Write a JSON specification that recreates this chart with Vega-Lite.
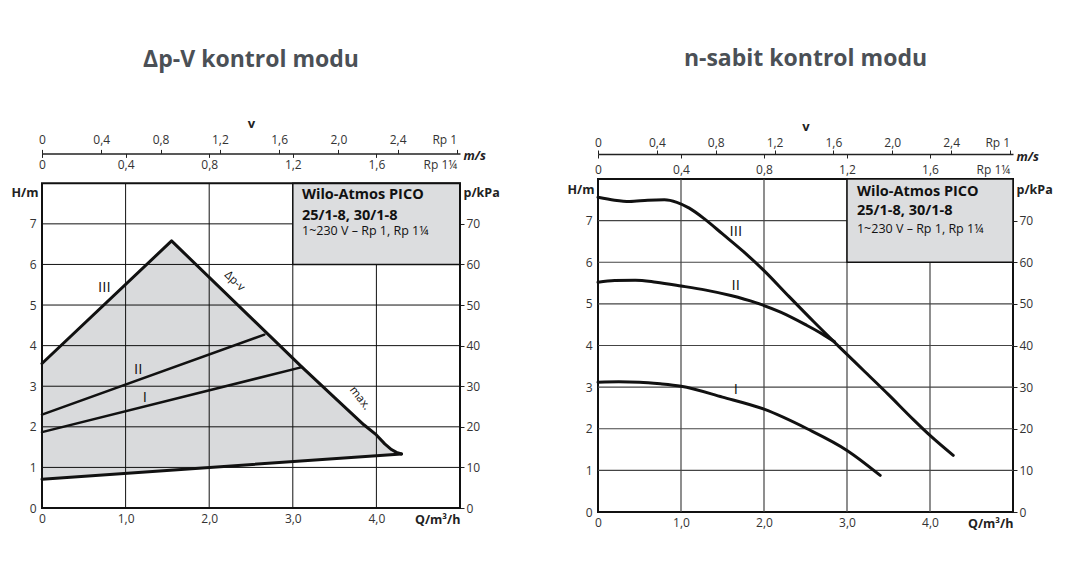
{
  "$schema": "https://vega.github.io/schema/vega-lite/v6.json",
  "background": "white",
  "padding": {"left": 10, "top": 47, "right": 5, "bottom": 5},
  "autosize": {"type": "pad"},
  "config": {
    "view": {"stroke": "#111", "strokeWidth": 2},
    "axis": {"grid": false, "labelFont": "Open Sans", "labelFontSize": 12, "labelColor": "#333", "titleFont": "Open Sans", "titleFontSize": 12.5, "titleFontWeight": "bold", "titleColor": "#222", "tickColor": "#222", "domainColor": "#222", "labelFlush": false, "labelOverlap": false, "labelBound": false},
    "title": {"font": "Open Sans", "fontSize": 23, "fontWeight": "bold", "color": "#4b5056", "anchor": "middle", "frame": "group"},
    "text": {"font": "Open Sans", "color": "#111"}
  },
  "spacing": 65,
  "hconcat": [
    {
      "title": {"text": "Δp-V kontrol modu", "offset": 45.9},
      "width": 418,
      "height": 329,
      "view": {"stroke": null},
      "resolve": {"axis": {"x": "independent", "y": "independent"}},
      "layer": [
        {
          "data": {"values": [
            {"q": 0, "upper": 3.56, "lower": 0.71},
            {"q": 1.55, "upper": 6.58, "lower": 0.93},
            {"q": 3.11, "upper": 3.47, "lower": 1.15},
            {"q": 3.5, "upper": 2.72, "lower": 1.21},
            {"q": 3.85, "upper": 2.05, "lower": 1.26},
            {"q": 4.0, "upper": 1.8, "lower": 1.28},
            {"q": 4.1, "upper": 1.58, "lower": 1.30},
            {"q": 4.18, "upper": 1.44, "lower": 1.31},
            {"q": 4.24, "upper": 1.37, "lower": 1.32},
            {"q": 4.3, "upper": 1.33, "lower": 1.33}
          ]},
          "mark": {"type": "area", "color": "#d9dadc", "opacity": 1},
          "encoding": {
            "x": {"field": "q", "type": "quantitative", "scale": {"domain": [0, 5], "nice": false, "zero": false},
              "axis": {"orient": "bottom", "values": [0, 1, 2, 3, 4], "labelExpr": "datum.value == 0 ? '0' : replace(format(datum.value, '.1f'), '.', ',')", "ticks": false, "domain": false, "labelPadding": 5,
                "title": "Q/m³/h", "titleX": 418, "titleY": 5, "titleAlign": "right", "titleBaseline": "top", "titleAnchor": "end"}},
            "y": {"field": "upper", "type": "quantitative", "scale": {"domain": [0, 8.105], "nice": false, "zero": false},
              "axis": {"orient": "left", "values": [0, 1, 2, 3, 4, 5, 6, 7], "ticks": false, "domain": false, "labelPadding": 6,
                "title": "H/m", "titleAngle": 0, "titleX": -4, "titleY": 13.5, "titleAlign": "right", "titleBaseline": "middle", "titleAnchor": "start"}},
            "y2": {"field": "lower"}
          }
        },
        {
          "data": {"values": [{"q": 1}, {"q": 2}, {"q": 3}, {"q": 4}]},
          "mark": {"type": "rule", "color": "#111", "strokeWidth": 1},
          "encoding": {
            "x": {"field": "q", "type": "quantitative", "scale": {"domain": [0, 5], "nice": false, "zero": false},
              "axis": {"orient": "top", "values": [0, 1, 2, 3, 4, 4.96], "labelExpr": "datum.value > 4.5 ? 'Rp 1¼' : datum.value == 0 ? '0' : replace(format(datum.value * 0.4, '.1f'), '.', ',')",
                "labelAlign": {"condition": {"test": "datum.value > 4.5", "value": "right"}, "value": "center"},
                "ticks": false, "domain": false, "labelPadding": 7.6, "title": null}},
            "y": {"datum": 0, "type": "quantitative", "scale": {"domain": [0, 8.105], "nice": false, "zero": false}, "axis": null},
            "y2": {"datum": 8}
          }
        },
        {
          "data": {"values": [{"h": 1}, {"h": 2}, {"h": 3}, {"h": 4}, {"h": 5}, {"h": 6}, {"h": 7}]},
          "mark": {"type": "rule", "color": "#111", "strokeWidth": 1},
          "encoding": {
            "y": {"field": "h", "type": "quantitative", "scale": {"domain": [0, 8.105], "nice": false, "zero": false},
              "axis": {"orient": "right", "values": [0, 1, 2, 3, 4, 5, 6, 7], "labelExpr": "format(datum.value * 10, 'd')", "ticks": true, "tickSize": 4, "domain": false, "labelPadding": 2,
                "title": "p/kPa", "titleAngle": 0, "titleX": 3, "titleY": 13.5, "titleAlign": "left", "titleBaseline": "middle", "titleAnchor": "start"}}
          }
        },
        {
          "data": {"values": [{"q1": 3, "q2": 5, "h1": 6, "h2": 8}]},
          "mark": {"type": "rect", "fill": "#dcdddf", "stroke": "#111", "strokeWidth": 1.5},
          "encoding": {
            "x": {"field": "q1", "type": "quantitative", "scale": {"domain": [0, 5], "nice": false, "zero": false},
              "axis": {"orient": "top", "offset": 25.6, "values": [0, 0.709, 1.418, 2.127, 2.836, 3.545, 4.254, 4.96],
                "labelExpr": "datum.value > 4.5 ? 'Rp 1' : datum.value == 0 ? '0' : replace(format(datum.value / 1.7725, '.1f'), '.', ',')",
                "labelAlign": {"condition": {"test": "datum.value > 4.5", "value": "right"}, "value": "center"},
                "ticks": true, "tickSize": 4, "domain": true, "domainWidth": 1.5, "labelPadding": 3,
                "title": "v", "titleFontSize": 13, "titlePadding": 3}},
            "x2": {"field": "q2"},
            "y": {"field": "h1", "type": "quantitative", "scale": {"domain": [0, 8.105], "nice": false, "zero": false}, "axis": null},
            "y2": {"field": "h2"}
          }
        },
        {
          "data": {"values": [
            {"s": "A", "q": 0, "h": 3.56}, {"s": "A", "q": 1.55, "h": 6.58}, {"s": "A", "q": 3.11, "h": 3.47},
            {"s": "A", "q": 3.5, "h": 2.72}, {"s": "A", "q": 3.85, "h": 2.05}, {"s": "A", "q": 4.0, "h": 1.8},
            {"s": "A", "q": 4.1, "h": 1.58}, {"s": "A", "q": 4.18, "h": 1.44}, {"s": "A", "q": 4.24, "h": 1.37},
            {"s": "A", "q": 4.3, "h": 1.33},
            {"s": "B", "q": 0, "h": 0.71}, {"s": "B", "q": 4.3, "h": 1.33}
          ]},
          "mark": {"type": "line", "color": "#111", "strokeWidth": 3, "strokeJoin": "round", "strokeCap": "round"},
          "encoding": {
            "x": {"field": "q", "type": "quantitative", "scale": {"domain": [0, 5], "nice": false, "zero": false},
              "axis": {"orient": "top", "offset": 25.6, "values": [0, 1, 2, 3, 4], "ticks": true, "tickSize": -4, "labels": false, "domain": false,
                "title": "m/s", "titleFontStyle": "italic", "titleX": 421, "titleY": 2, "titleAlign": "left", "titleBaseline": "middle", "titleAnchor": "start"}},
            "y": {"field": "h", "type": "quantitative", "scale": {"domain": [0, 8.105], "nice": false, "zero": false}, "axis": null},
            "detail": {"field": "s"}
          }
        },
        {
          "data": {"values": [
            {"s": "II", "q": 0, "h": 2.30}, {"s": "II", "q": 2.66, "h": 4.27},
            {"s": "I", "q": 0, "h": 1.87}, {"s": "I", "q": 3.11, "h": 3.47}
          ]},
          "mark": {"type": "line", "color": "#111", "strokeWidth": 2.5, "strokeCap": "round"},
          "encoding": {
            "x": {"field": "q", "type": "quantitative", "scale": {"domain": [0, 5], "nice": false, "zero": false}, "axis": null},
            "y": {"field": "h", "type": "quantitative", "scale": {"domain": [0, 8.105], "nice": false, "zero": false}, "axis": null},
            "detail": {"field": "s"}
          }
        },
        {
          "data": {"values": [
            {"t": "III", "q": 0.745, "h": 5.44}, {"t": "II", "q": 1.15, "h": 3.43}, {"t": "I", "q": 1.23, "h": 2.73}
          ]},
          "mark": {"type": "text", "fontSize": 15, "align": "center", "baseline": "middle"},
          "encoding": {
            "x": {"field": "q", "type": "quantitative", "scale": {"domain": [0, 5], "nice": false, "zero": false}, "axis": null},
            "y": {"field": "h", "type": "quantitative", "scale": {"domain": [0, 8.105], "nice": false, "zero": false}, "axis": null},
            "text": {"field": "t"}
          }
        },
        {
          "data": {"values": [{"t": "Δp-v", "q": 2.3, "h": 5.58}]},
          "mark": {"type": "text", "fontSize": 11.5, "angle": 44, "align": "center", "baseline": "middle"},
          "encoding": {
            "x": {"field": "q", "type": "quantitative", "scale": {"domain": [0, 5], "nice": false, "zero": false}, "axis": null},
            "y": {"field": "h", "type": "quantitative", "scale": {"domain": [0, 8.105], "nice": false, "zero": false}, "axis": null},
            "text": {"field": "t"}
          }
        },
        {
          "data": {"values": [{"t": "max.", "q": 3.8, "h": 2.7}]},
          "mark": {"type": "text", "fontSize": 11.5, "angle": 52, "align": "center", "baseline": "middle"},
          "encoding": {
            "x": {"field": "q", "type": "quantitative", "scale": {"domain": [0, 5], "nice": false, "zero": false}, "axis": null},
            "y": {"field": "h", "type": "quantitative", "scale": {"domain": [0, 8.105], "nice": false, "zero": false}, "axis": null},
            "text": {"field": "t"}
          }
        },
        {
          "data": {"values": [{"t": "Wilo-Atmos PICO", "q": 3.11, "h": 7.70}, {"t": "25/1-8, 30/1-8", "q": 3.11, "h": 7.19}]},
          "mark": {"type": "text", "fontSize": 14.5, "fontWeight": "bold", "align": "left", "baseline": "middle"},
          "encoding": {
            "x": {"field": "q", "type": "quantitative", "scale": {"domain": [0, 5], "nice": false, "zero": false}, "axis": null},
            "y": {"field": "h", "type": "quantitative", "scale": {"domain": [0, 8.105], "nice": false, "zero": false}, "axis": null},
            "text": {"field": "t"}
          }
        },
        {
          "data": {"values": [{"t": "1~230 V – Rp 1, Rp 1¼", "q": 3.11, "h": 6.82}]},
          "mark": {"type": "text", "fontSize": 12.5, "align": "left", "baseline": "middle"},
          "encoding": {
            "x": {"field": "q", "type": "quantitative", "scale": {"domain": [0, 5], "nice": false, "zero": false}, "axis": null},
            "y": {"field": "h", "type": "quantitative", "scale": {"domain": [0, 8.105], "nice": false, "zero": false}, "axis": null},
            "text": {"field": "t"}
          }
        },
        {
          "data": {"values": [{}]},
          "mark": {"type": "rect", "fill": null, "fillOpacity": 0, "stroke": "#111", "strokeWidth": 2},
          "encoding": {
            "x": {"datum": 0, "type": "quantitative", "scale": {"domain": [0, 5], "nice": false, "zero": false}, "axis": null},
            "x2": {"datum": 5},
            "y": {"datum": 0, "type": "quantitative", "scale": {"domain": [0, 8.105], "nice": false, "zero": false}, "axis": null},
            "y2": {"datum": 8}
          }
        }
      ]
    },
    {
      "title": {"text": "n-sabit kontrol modu", "offset": 48.9},
      "width": 415,
      "height": 333,
      "resolve": {"axis": {"x": "independent", "y": "independent"}},
      "layer": [
        {
          "data": {"values": [{"q": 1}, {"q": 2}, {"q": 3}, {"q": 4}]},
          "mark": {"type": "rule", "color": "#444", "strokeWidth": 1.2},
          "encoding": {
            "x": {"field": "q", "type": "quantitative", "scale": {"domain": [0, 5], "nice": false, "zero": false},
              "axis": {"orient": "bottom", "values": [0, 1, 2, 3, 4], "labelExpr": "datum.value == 0 ? '0' : replace(format(datum.value, '.1f'), '.', ',')", "ticks": false, "domain": false, "labelPadding": 5,
                "title": "Q/m³/h", "titleX": 415, "titleY": 5, "titleAlign": "right", "titleBaseline": "top", "titleAnchor": "end"}}
          }
        },
        {
          "data": {"values": [{"h": 1}, {"h": 2}, {"h": 3}, {"h": 4}, {"h": 5}, {"h": 6}, {"h": 7}]},
          "mark": {"type": "rule", "color": "#444", "strokeWidth": 1.2},
          "encoding": {
            "y": {"field": "h", "type": "quantitative", "scale": {"domain": [0, 8], "nice": false, "zero": false},
              "axis": {"orient": "left", "values": [0, 1, 2, 3, 4, 5, 6, 7], "ticks": false, "domain": false, "labelPadding": 6,
                "title": "H/m", "titleAngle": 0, "titleX": -4, "titleY": 10, "titleAlign": "right", "titleBaseline": "middle", "titleAnchor": "start"}}
          }
        },
        {
          "data": {"values": [{"q1": 3, "q2": 5, "h1": 6, "h2": 8}]},
          "mark": {"type": "rect", "fill": "#dcdddf", "stroke": "#111", "strokeWidth": 1.5},
          "encoding": {
            "x": {"field": "q1", "type": "quantitative", "scale": {"domain": [0, 5], "nice": false, "zero": false},
              "axis": {"orient": "top", "values": [0, 1, 2, 3, 4, 4.96], "labelExpr": "datum.value > 4.5 ? 'Rp 1¼' : datum.value == 0 ? '0' : replace(format(datum.value * 0.4, '.1f'), '.', ',')",
                "labelAlign": {"condition": {"test": "datum.value > 4.5", "value": "right"}, "value": "center"},
                "ticks": false, "domain": false, "labelPadding": 3, "title": null}},
            "x2": {"field": "q2"},
            "y": {"field": "h1", "type": "quantitative", "scale": {"domain": [0, 8], "nice": false, "zero": false},
              "axis": {"orient": "right", "values": [0, 1, 2, 3, 4, 5, 6, 7], "labelExpr": "format(datum.value * 10, 'd')", "ticks": true, "tickSize": 4, "domain": false, "labelPadding": 2,
                "title": "p/kPa", "titleAngle": 0, "titleX": 3, "titleY": 10, "titleAlign": "left", "titleBaseline": "middle", "titleAnchor": "start"}},
            "y2": {"field": "h2"}
          }
        },
        {
          "data": {"values": [
            {"s": "III", "q": 0, "h": 7.56}, {"s": "III", "q": 0.2, "h": 7.49}, {"s": "III", "q": 0.38, "h": 7.46},
            {"s": "III", "q": 0.6, "h": 7.49}, {"s": "III", "q": 0.8, "h": 7.5}, {"s": "III", "q": 0.95, "h": 7.44},
            {"s": "III", "q": 1.1, "h": 7.3}, {"s": "III", "q": 1.29, "h": 7.03}, {"s": "III", "q": 1.5, "h": 6.68},
            {"s": "III", "q": 1.75, "h": 6.26}, {"s": "III", "q": 2.0, "h": 5.8}, {"s": "III", "q": 2.3, "h": 5.18},
            {"s": "III", "q": 2.6, "h": 4.57}, {"s": "III", "q": 2.9, "h": 3.98}, {"s": "III", "q": 3.2, "h": 3.4},
            {"s": "III", "q": 3.5, "h": 2.82}, {"s": "III", "q": 3.8, "h": 2.22}, {"s": "III", "q": 4.0, "h": 1.84},
            {"s": "III", "q": 4.28, "h": 1.36},
            {"s": "II", "q": 0, "h": 5.52}, {"s": "II", "q": 0.2, "h": 5.56}, {"s": "II", "q": 0.45, "h": 5.57},
            {"s": "II", "q": 0.7, "h": 5.52}, {"s": "II", "q": 1.0, "h": 5.43}, {"s": "II", "q": 1.3, "h": 5.33},
            {"s": "II", "q": 1.6, "h": 5.2}, {"s": "II", "q": 1.9, "h": 5.03}, {"s": "II", "q": 2.2, "h": 4.8},
            {"s": "II", "q": 2.5, "h": 4.5}, {"s": "II", "q": 2.7, "h": 4.28}, {"s": "II", "q": 2.85, "h": 4.09},
            {"s": "I", "q": 0, "h": 3.12}, {"s": "I", "q": 0.25, "h": 3.13}, {"s": "I", "q": 0.5, "h": 3.12},
            {"s": "I", "q": 0.75, "h": 3.08}, {"s": "I", "q": 1.0, "h": 3.02}, {"s": "I", "q": 1.5, "h": 2.76},
            {"s": "I", "q": 2.0, "h": 2.47}, {"s": "I", "q": 2.52, "h": 2.0}, {"s": "I", "q": 3.0, "h": 1.48},
            {"s": "I", "q": 3.4, "h": 0.88}
          ]},
          "mark": {"type": "line", "color": "#111", "strokeWidth": 3, "interpolate": "monotone", "strokeCap": "round"},
          "encoding": {
            "x": {"field": "q", "type": "quantitative", "scale": {"domain": [0, 5], "nice": false, "zero": false},
              "axis": {"orient": "top", "offset": 25, "values": [0, 0.709, 1.418, 2.127, 2.836, 3.545, 4.254, 4.96],
                "labelExpr": "datum.value > 4.5 ? 'Rp 1' : datum.value == 0 ? '0' : replace(format(datum.value / 1.7725, '.1f'), '.', ',')",
                "labelAlign": {"condition": {"test": "datum.value > 4.5", "value": "right"}, "value": "center"},
                "ticks": true, "tickSize": 4, "domain": true, "domainWidth": 1.5, "labelPadding": 1,
                "title": "v", "titleFontSize": 13, "titlePadding": 3}},
            "y": {"field": "h", "type": "quantitative", "scale": {"domain": [0, 8], "nice": false, "zero": false}, "axis": null},
            "detail": {"field": "s"}
          }
        },
        {
          "data": {"values": [
            {"t": "III", "q": 1.66, "h": 6.76}, {"t": "II", "q": 1.66, "h": 5.46}, {"t": "I", "q": 1.66, "h": 2.96}
          ]},
          "mark": {"type": "text", "fontSize": 15, "align": "center", "baseline": "middle"},
          "encoding": {
            "x": {"field": "q", "type": "quantitative", "scale": {"domain": [0, 5], "nice": false, "zero": false},
              "axis": {"orient": "top", "offset": 25, "values": [0, 1, 2, 3, 4], "ticks": true, "tickSize": -4, "labels": false, "domain": false,
                "title": "m/s", "titleFontStyle": "italic", "titleX": 418, "titleY": 2, "titleAlign": "left", "titleBaseline": "middle", "titleAnchor": "start"}},
            "y": {"field": "h", "type": "quantitative", "scale": {"domain": [0, 8], "nice": false, "zero": false}, "axis": null},
            "text": {"field": "t"}
          }
        },
        {
          "data": {"values": [{"t": "Wilo-Atmos PICO", "q": 3.12, "h": 7.69}, {"t": "25/1-8, 30/1-8", "q": 3.12, "h": 7.22}]},
          "mark": {"type": "text", "fontSize": 14.5, "fontWeight": "bold", "align": "left", "baseline": "middle"},
          "encoding": {
            "x": {"field": "q", "type": "quantitative", "scale": {"domain": [0, 5], "nice": false, "zero": false}, "axis": null},
            "y": {"field": "h", "type": "quantitative", "scale": {"domain": [0, 8], "nice": false, "zero": false}, "axis": null},
            "text": {"field": "t"}
          }
        },
        {
          "data": {"values": [{"t": "1~230 V – Rp 1, Rp 1¼", "q": 3.12, "h": 6.80}]},
          "mark": {"type": "text", "fontSize": 12.5, "align": "left", "baseline": "middle"},
          "encoding": {
            "x": {"field": "q", "type": "quantitative", "scale": {"domain": [0, 5], "nice": false, "zero": false}, "axis": null},
            "y": {"field": "h", "type": "quantitative", "scale": {"domain": [0, 8], "nice": false, "zero": false}, "axis": null},
            "text": {"field": "t"}
          }
        }
      ]
    }
  ]
}
